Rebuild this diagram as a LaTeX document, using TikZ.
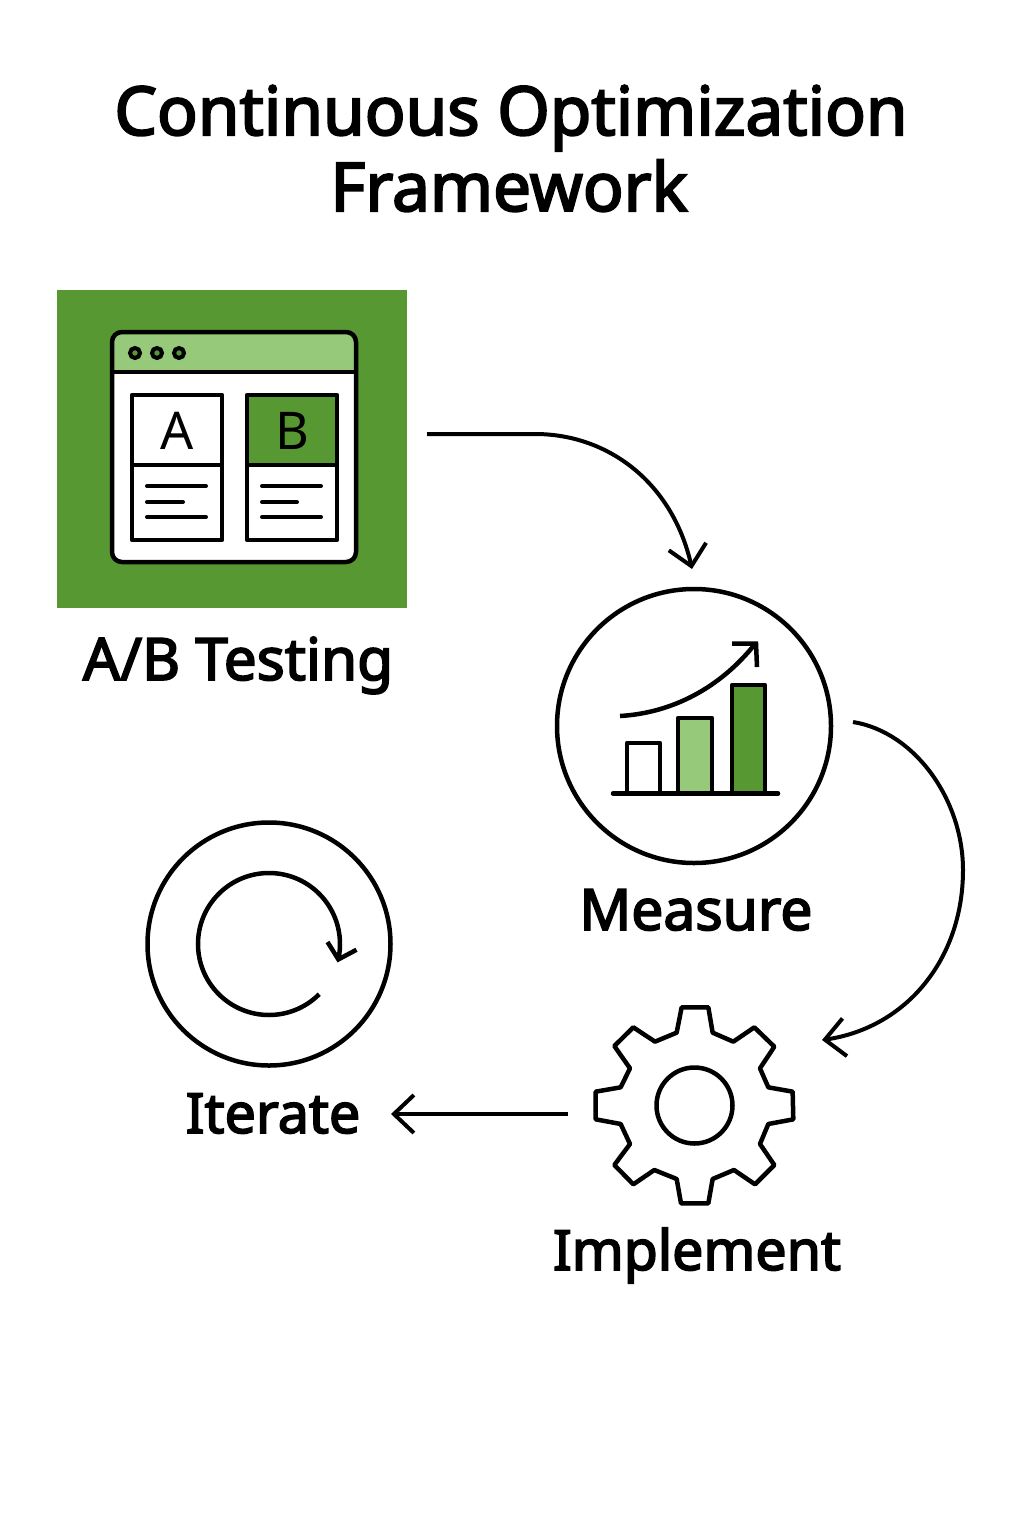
\documentclass[tikz,border=0pt]{standalone}
\usepackage{fontspec}
\setmainfont{Noto Sans}
\newfontfamily\heavyfont{Noto Sans}[FakeBold=3]
\usetikzlibrary{arrows.meta,bending}
\definecolor{gdark}{HTML}{589832}
\definecolor{glight}{HTML}{97C97A}
\tikzset{
  ink/.style={draw=black,line width=4.5pt},
  thinink/.style={draw=black,line width=4pt,line cap=round},
  conn/.style={draw=black,line width=4pt,-{Straight Barb[length=20pt,width=38pt,line width=4pt,flex=0]}},
  smallarrow/.style={draw=black,line width=4.5pt,-{Straight Barb[length=14pt,width=30pt,line width=4.5pt,flex=0]}},
  title/.style={font=\fontsize{67.5}{67.5}\selectfont\heavyfont,anchor=base,inner sep=0pt},
  label/.style={font=\fontsize{55.5}{55.5}\selectfont\heavyfont,anchor=base,inner sep=0pt},
  letter/.style={font=\fontsize{52}{52}\selectfont,inner sep=0pt}
}
\begin{document}
\begin{tikzpicture}[x=1pt,y=-1pt]
\useasboundingbox (0,0) rectangle (1024,1536);
\fill[white] (0,0) rectangle (1024,1536);
% title
\node[title] (t1) at (511,135) {Continuous Optimization};
\node[title] (t2) at (509,211) {Framework};
% A/B tile
\node[fill=gdark,minimum width=350pt,minimum height=318pt,inner sep=0pt,anchor=north west] (tile) at (57,290) {};
\fill[white] (112,332) [rounded corners=10pt] rectangle (356,562);
\begin{scope}
\clip[rounded corners=10pt] (112,332) rectangle (356,562);
\fill[glight] (112,332) rectangle (356,372);
\end{scope}
\draw[ink,rounded corners=10pt] (112,332) rectangle (356,562);
\draw[ink] (112,372) -- (356,372);
\foreach \dx in {135,157,179}{\draw[line width=4pt,fill=gdark] (\dx,353) circle[radius=5];}
\fill[gdark] (247,395) rectangle (337,465);
\draw[ink,line join=round] (132,395) rectangle (222,540);
\draw[ink,line join=round] (247,395) rectangle (337,540);
\draw[ink] (132,465) -- (222,465);
\draw[ink] (247,465) -- (337,465);
\node[letter] (la) at (177,431) {A};
\node[letter] (lb) at (292,431) {B};
\foreach \yy/\xa/\xb/\xc/\xd in {486/147/206/262/321,502/147/183/262/297,517/147/206/262/321}{
  \draw[thinink] (\xa,\yy) -- (\xb,\yy);
  \draw[thinink] (\xc,\yy) -- (\xd,\yy);
}
\node[label,font=\fontsize{58.5}{58.5}\selectfont\heavyfont] (ablabel) at (238,680) {A/B Testing};
% measure
\node[ink,circle,minimum size=274pt,inner sep=0pt] (meas) at (694,726) {};
\draw[ink,line join=round] (627,793) -- (627,743) -- (660,743) -- (660,793);
\draw[ink,fill=glight,line join=round] (678,793) -- (678,718) -- (712,718) -- (712,793);
\draw[ink,fill=gdark,line join=round] (732,793) -- (732,685) -- (765,685) -- (765,793);
\draw[ink,line cap=round] (613,793.5) -- (778,793.5);
\draw[ink,line cap=butt] (620,716) .. controls (672,713) and (720,688) .. (755,644);
\draw[ink,line join=miter] (732,643.5) -- (756,643.5) -- (757,667);
\node[label,font=\fontsize{57}{57}\selectfont\heavyfont] (measlabel) at (696,930) {Measure};
% iterate
\node[ink,circle,minimum size=243pt,inner sep=0pt] (iter) at (269,944) {};
\coordinate (loopstart) at (319.2,994.2);
\draw[smallarrow] (loopstart) arc[start angle=45,end angle=375,radius=71];
\node[label] (iterlabel) at (273,1133) {Iterate};
% gear
\begin{scope}[shift={(580,990)},x=0.3333pt,y=-0.3333pt]
\draw[ink,line join=round] (305,52) -- (385,52) -- (398,128) -- (460,155) -- (523,112) -- (583,170) -- (540,235) -- (565,292) -- (638,305) -- (640,388) -- (565,402) -- (540,462) -- (583,525) -- (525,583) -- (462,540) -- (398,567) -- (385,640) -- (303,640) -- (290,567) -- (223,540) -- (160,583) -- (103,525) -- (150,462) -- (122,402) -- (47,388) -- (47,305) -- (122,292) -- (150,235) -- (103,168) -- (160,112) -- (225,155) -- (290,128) -- cycle;
\end{scope}
\node[ink,circle,minimum size=76pt,inner sep=0pt] (gearhub) at (694.5,1105.5) {};
\node[label] (implabel) at (697,1270) {Implement};
% connectors
\coordinate (c1s) at (427,434);
\coordinate (c1e) at (692,569);
\coordinate (c2s) at (853,722);
\coordinate (c2e) at (822,1040);
\coordinate (c3s) at (568,1114);
\coordinate (c3e) at (391,1114);
\draw[conn] (c1s) -- (535,434) .. controls (610,434) and (675,485) .. (c1e);
\draw[conn] (c2s) .. controls (915,732) and (963,800) .. (963,870) .. controls (963,960) and (905,1030) .. (c2e);
\draw[conn] (c3s) -- (c3e);
\end{tikzpicture}
\end{document}
